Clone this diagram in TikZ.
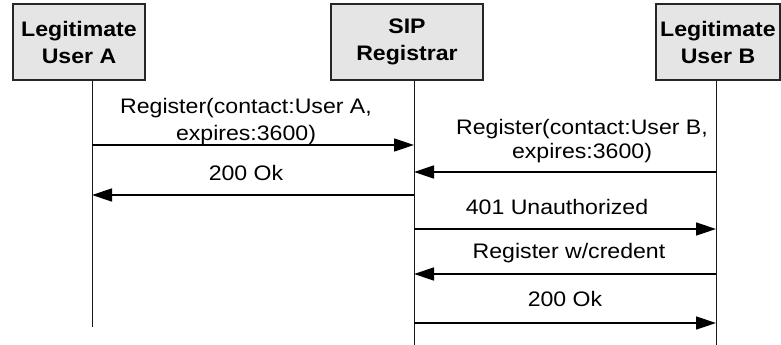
\documentclass[tikz,border=0pt]{standalone}
\usepackage{fontspec}
\setmainfont{Liberation Sans}[FakeStretch=1.1]
\usetikzlibrary{arrows.meta}
\begin{document}
\begin{tikzpicture}[x=1pt,y=-1pt,
  actor/.style={draw=black!85,line width=1.3pt,fill=black!10,minimum height=76pt,
    align=center,font=\fontsize{21}{27}\selectfont\bfseries,inner sep=0pt},
  life/.style={line width=0.9pt,black!90},
  msg/.style={line width=1.4pt,-{Triangle[length=20pt,width=13pt]}},
  lbl/.style={font=\fontsize{21}{27}\selectfont,anchor=base,inner sep=0pt}]
\useasboundingbox (0,0) rectangle (781,345);
% actors
\node[actor,minimum width=132pt] (A) at (79,42) {Legitimate\\User A};
\node[actor,minimum width=152pt] (S) at (407,42) {SIP\\Registrar};
\node[actor,minimum width=124pt] (B) at (718,42) {Legitimate\\User B};
% lifeline coordinates
\coordinate (Atop) at (92,80);  \coordinate (Abot) at (92,327);
\coordinate (Stop) at (414,80); \coordinate (Sbot) at (414,345);
\coordinate (Btop) at (716,80); \coordinate (Bbot) at (716,345);
\draw[life] (Atop) -- (Abot);
\draw[life] (Stop) -- (Sbot);
\draw[life] (Btop) -- (Bbot);
% message end points
\coordinate (a1) at (92,145);  \coordinate (s1) at (414,145);
\coordinate (a2) at (92,195);  \coordinate (s2) at (414,195);
\coordinate (s3) at (414,172); \coordinate (b3) at (716,172);
\coordinate (s4) at (414,229); \coordinate (b4) at (716,229);
\coordinate (s5) at (414,274); \coordinate (b5) at (716,274);
\coordinate (s6) at (414,323); \coordinate (b6) at (716,323);
% messages
\draw[msg] (a1) -- (s1);
\draw[msg] (s2) -- (a2);
\draw[msg] (b3) -- (s3);
\draw[msg] (s4) -- (b4);
\draw[msg] (b5) -- (s5);
\draw[msg] (s6) -- (b6);
% labels
\node[lbl] (l1a) at (246,113) {Register(contact:User A,};
\node[lbl] (l1b) at (246,140) {expires:3600)};
\node[lbl] (l2) at (246,180) {200 Ok};
\node[lbl] (l3a) at (582,134) {Register(contact:User B,};
\node[lbl] (l3b) at (582,158) {expires:3600)};
\node[lbl] (l4) at (557,214) {401 Unauthorized};
\node[lbl] (l5) at (569,258) {Register w/credent};
\node[lbl] (l6) at (565,306) {200 Ok};
\end{tikzpicture}
\end{document}
